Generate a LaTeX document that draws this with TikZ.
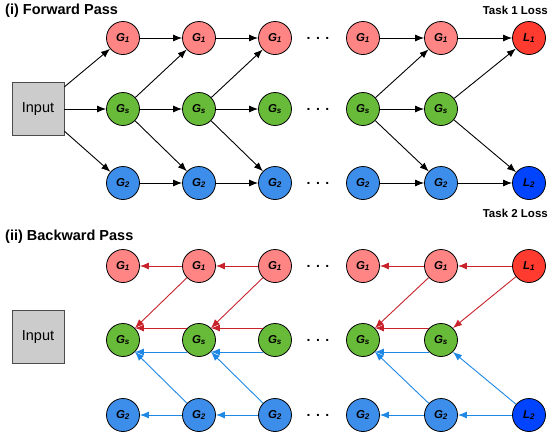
\documentclass[tikz,border=0pt]{standalone}
\usepackage{fontspec}
\setmainfont{Liberation Sans}
\usepackage{tikz}
\usetikzlibrary{arrows.meta}
\definecolor{gonefill}{HTML}{FF8585}
\definecolor{gsfill}{HTML}{68BB38}
\definecolor{gtwofill}{HTML}{3D8EEB}
\definecolor{lonefill}{HTML}{FF3B30}
\definecolor{ltwofill}{HTML}{0044FF}
\definecolor{redarrow}{HTML}{C8222B}
\definecolor{bluearrow}{HTML}{1E88E5}
\newcommand{\glab}[2]{\fontsize{11.5}{13}\selectfont\textbf{\textit{#1}\textsubscript{\textit{#2}}}}
\newcommand{\rowdots}{\fontsize{14}{15}\selectfont\textbf{.\hspace{5.5pt}.\hspace{5.5pt}.}}

\begin{document}
\begin{tikzpicture}[x=1pt, y=-1pt,
  >={Latex[length=9pt,width=7pt]},
  gnode/.style={circle, draw=black, line width=0.8pt, minimum size=33pt, inner sep=0pt},
  gone/.style={gnode, fill=gonefill},
  gs/.style={gnode, fill=gsfill},
  gtwo/.style={gnode, fill=gtwofill},
  lone/.style={gnode, fill=lonefill},
  ltwo/.style={gnode, fill=ltwofill},
  inbox/.style={draw=black!70, fill=black!20, line width=0.8pt, minimum width=52pt, minimum height=53pt, font=\fontsize{14.5}{16}\selectfont},
  fwd/.style={->, line width=0.9pt, black},
  bred/.style={->, line width=0.9pt, redarrow},
  bblue/.style={->, line width=0.9pt, bluearrow},
  title/.style={font=\fontsize{14.5}{16}\selectfont\bfseries, inner sep=0pt},
  losslabel/.style={font=\fontsize{11.5}{13}\selectfont\bfseries, inner sep=0pt}]
  \useasboundingbox (0, 0) rectangle (549, 440);

  % (i) forward pass
  \node [title, anchor=west] (FTitle) at (5, 11) {(i) Forward Pass};
  \node [losslabel, anchor=east] (TL1) at (548, 10) {Task 1 Loss};
  \node [losslabel, anchor=east] (TL2) at (548, 213) {Task 2 Loss};
  \node [inbox] (In) at (38, 109) {Input};
  \node [gone] (T1) at (123, 38) {\glab{G}{1}};
  \node [gone] (T2) at (199, 38) {\glab{G}{1}};
  \node [gone] (T3) at (275, 38) {\glab{G}{1}};
  \node (TD) at (318, 38) {\rowdots};
  \node [gone] (T4) at (363, 38) {\glab{G}{1}};
  \node [gone] (T5) at (441, 38) {\glab{G}{1}};
  \node [lone] (TL) at (529, 38) {\glab{L}{1}};
  \node [gs] (M1) at (123, 109) {\glab{G}{s}};
  \node [gs] (M2) at (199, 109) {\glab{G}{s}};
  \node [gs] (M3) at (275, 109) {\glab{G}{s}};
  \node (MD) at (318, 109) {\rowdots};
  \node [gs] (M4) at (363, 109) {\glab{G}{s}};
  \node [gs] (M5) at (441, 109) {\glab{G}{s}};
  \node [gtwo] (B1) at (123, 183) {\glab{G}{2}};
  \node [gtwo] (B2) at (199, 183) {\glab{G}{2}};
  \node [gtwo] (B3) at (275, 183) {\glab{G}{2}};
  \node (BD) at (318, 183) {\rowdots};
  \node [gtwo] (B4) at (363, 183) {\glab{G}{2}};
  \node [gtwo] (B5) at (441, 183) {\glab{G}{2}};
  \node [ltwo] (BL) at (529, 183) {\glab{L}{2}};
  \draw [fwd] (In.40) -- (T1);
  \draw [fwd] (In) -- (M1);
  \draw [fwd] (In.-40) -- (B1);
  \draw [fwd] (T1) -- (T2);
  \draw [fwd] (T2) -- (T3);
  \draw [fwd] (T4) -- (T5);
  \draw [fwd] (T5) -- (TL);
  \draw [fwd] (M1) -- (M2);
  \draw [fwd] (M2) -- (M3);
  \draw [fwd] (M4) -- (M5);
  \draw [fwd] (B1) -- (B2);
  \draw [fwd] (B2) -- (B3);
  \draw [fwd] (B4) -- (B5);
  \draw [fwd] (B5) -- (BL);
  \draw [fwd] (M1) -- (T2);
  \draw [fwd] (M1) -- (B2);
  \draw [fwd] (M2) -- (T3);
  \draw [fwd] (M2) -- (B3);
  \draw [fwd] (M4) -- (T5);
  \draw [fwd] (M4) -- (B5);
  \draw [fwd] (M5) -- (TL);
  \draw [fwd] (M5) -- (BL);

  % (ii) backward pass
  \node [title, anchor=west] (BTitle) at (5, 237) {(ii) Backward Pass};
  \node [inbox] (bIn) at (38, 337) {Input};
  \node [gone] (bT1) at (123, 266) {\glab{G}{1}};
  \node [gone] (bT2) at (199, 266) {\glab{G}{1}};
  \node [gone] (bT3) at (275, 266) {\glab{G}{1}};
  \node (bTD) at (318, 266) {\rowdots};
  \node [gone] (bT4) at (363, 266) {\glab{G}{1}};
  \node [gone] (bT5) at (441, 266) {\glab{G}{1}};
  \node [lone] (bTL) at (529, 266) {\glab{L}{1}};
  \node [gs] (bM1) at (123, 340) {\glab{G}{s}};
  \node [gs] (bM2) at (199, 340) {\glab{G}{s}};
  \node [gs] (bM3) at (275, 340) {\glab{G}{s}};
  \node (bMD) at (318, 340) {\rowdots};
  \node [gs] (bM4) at (363, 340) {\glab{G}{s}};
  \node [gs] (bM5) at (441, 340) {\glab{G}{s}};
  \node [gtwo] (bB1) at (123, 415) {\glab{G}{2}};
  \node [gtwo] (bB2) at (199, 415) {\glab{G}{2}};
  \node [gtwo] (bB3) at (275, 415) {\glab{G}{2}};
  \node (bBD) at (318, 415) {\rowdots};
  \node [gtwo] (bB4) at (363, 415) {\glab{G}{2}};
  \node [gtwo] (bB5) at (441, 415) {\glab{G}{2}};
  \node [ltwo] (bBL) at (529, 415) {\glab{L}{2}};
  \draw [bred] (bT2) -- (bT1);
  \draw [bred] (bT3) -- (bT2);
  \draw [bred] (bT5) -- (bT4);
  \draw [bred] (bTL) -- (bT5);
  \draw [bred] (bT2) -- (bM1.45);
  \draw [bred] (bT3) -- (bM2.45);
  \draw [bred] (bT5) -- (bM4.45);
  \draw [bred] (bTL) -- (bM5.45);
  \draw [bred] (bM2.135) -- (bM1.45);
  \draw [bred] (bM3.135) -- (bM2.45);
  \draw [bred] (bM5.135) -- (bM4.45);
  \draw [bblue] (bM2.225) -- (bM1.-45);
  \draw [bblue] (bM3.225) -- (bM2.-45);
  \draw [bblue] (bM5.225) -- (bM4.-45);
  \draw [bblue] (bB2) -- (bM1.-45);
  \draw [bblue] (bB3) -- (bM2.-45);
  \draw [bblue] (bB5) -- (bM4.-45);
  \draw [bblue] (bBL) -- (bM5.-45);
  \draw [bblue] (bB2) -- (bB1);
  \draw [bblue] (bB3) -- (bB2);
  \draw [bblue] (bB5) -- (bB4);
  \draw [bblue] (bBL) -- (bB5);
\end{tikzpicture}
\end{document}
